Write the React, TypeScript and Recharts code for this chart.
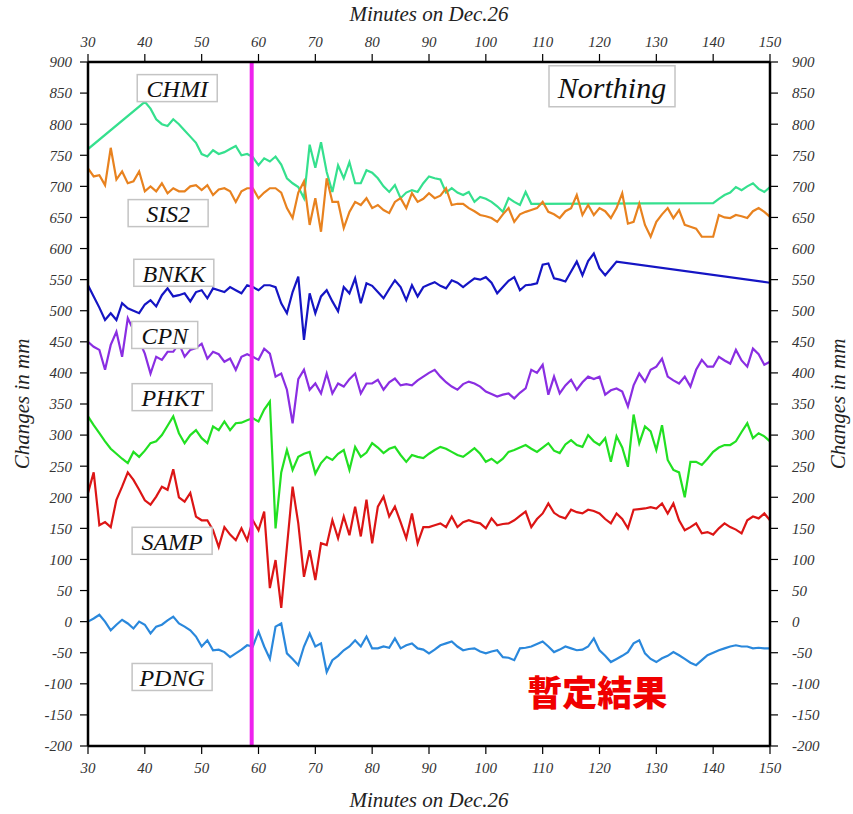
import React from 'react';
import { LineChart, Line, XAxis, YAxis, ReferenceLine, ReferenceDot } from 'recharts';

const minutes: number[] = Array.from({ length: 121 }, (_, i) => 30 + i);

const N = null;

const chmi: (number | null)[] = [
  760, N, N, N, N, N, N, N, N, N,
  836, 825, 808, 800, 797, 808, 800, 790, 780, 770,
  752, 748, 758, 752, 755, 760, 765, 750, 752, 747,
  734, 745, 740, 748, 735, 713, 705, 699, 681, 767,
  730, 771, 723, 691, 734, 713, 739, 705, 705, 726,
  722, 713, 700, 691, 702, 681, 690, 694, 691, 705,
  716, 713, 711, 690, 697, 690, 686, 691, 675, 683,
  680, 675, 668, 659, 681, 675, 670, 691, 672, N,
  N, N, N, N, N, N, N, N, N, N,
  N, N, N, N, N, N, N, N, N, N,
  N, N, N, N, N, N, N, N, N, N,
  673, 680, 686, 690, 699, 694, 700, 705, 696, 691,
  699,
];

const sis2: number[] = [
  729, 716, 718, 702, 762, 711, 724, 705, 708, 724,
  692, 700, 692, 705, 689, 697, 692, 692, 700, 702,
  694, 702, 686, 695, 697, 692, 675, 692, 697, 697,
  681, 690, 697, 697, 690, 665, 649, 690, 708, 638,
  681, 627, 713, 675, 675, 633, 659, 675, 670, 681,
  665, 670, 662, 657, 675, 681, 665, 689, 675, 680,
  689, 681, 685, 697, 670, 672, 672, 665, 660, 654,
  652, 649, 643, 655, 665, 643, 655, 659, 662, 665,
  675, 659, 655, 649, 660, 665, 686, 654, 670, 654,
  665, 660, 649, 665, 689, 640, 643, 672, 638, 619,
  643, 655, 665, 649, 662, 638, 635, 632, 619, 619,
  619, 654, 650, 649, 654, 652, 649, 660, 665, 659,
  651,
];

const bnkk: (number | null)[] = [
  541, 523, 505, 485, 496, 485, 512, 504, 500, 496,
  510, 517, 507, 525, 536, 523, 525, 528, 515, 530,
  533, 520, 536, 533, 530, 538, 533, 528, 541, 538,
  533, 541, 541, 538, 512, 496, 530, 555, 453, 528,
  496, 523, 533, 515, 499, 538, 528, 552, 512, 544,
  540, 530, 520, 535, 549, 538, 517, 541, 523, 538,
  542, 546, 540, 536, 549, 545, 538, 545, 552, 550,
  554, 545, 528, 538, 548, 554, 533, 541, 542, 544,
  574, 576, 552, 550, 547, 563, 579, 557, 580, 592,
  568, 557, 568, 579, N, N, N, N, N, N,
  N, N, N, N, N, N, N, N, N, N,
  N, N, N, N, N, N, N, N, N, N,
  545,
];

const cpn: number[] = [
  450, 442, 437, 405, 445, 466, 426, 488, 469, 452,
  431, 399, 426, 421, 434, 434, 447, 426, 437, 440,
  447, 423, 434, 430, 418, 423, 405, 426, 430, 426,
  421, 439, 431, 394, 399, 373, 319, 390, 405, 373,
  383, 367, 399, 367, 383, 378, 390, 399, 367, 383,
  383, 389, 373, 385, 391, 380, 382, 380, 388, 394,
  400, 405, 394, 385, 378, 373, 382, 386, 383, 378,
  370, 366, 362, 365, 367, 359, 368, 375, 405, 400,
  413, 365, 394, 367, 380, 389, 373, 385, 394, 390,
  394, 365, 372, 375, 370, 346, 380, 399, 386, 405,
  410, 423, 394, 388, 383, 394, 378, 405, 421, 410,
  410, 426, 420, 415, 437, 420, 410, 439, 430, 413,
  418,
];

const phkt: number[] = [
  330, 316, 303, 290, 278, 270, 262, 255, 273, 265,
  275, 287, 290, 300, 315, 330, 303, 287, 300, 308,
  295, 287, 314, 308, 322, 308, 319, 320, 324, 327,
  322, 341, 354, 150, 240, 276, 244, 265, 270, 273,
  238, 255, 265, 260, 270, 276, 244, 281, 265, 272,
  287, 280, 271, 278, 281, 268, 257, 268, 265, 263,
  270, 276, 281, 278, 273, 268, 265, 272, 279, 270,
  257, 262, 255, 262, 273, 276, 280, 284, 278, 273,
  280, 287, 275, 271, 285, 292, 284, 281, 300, 290,
  284, 295, 257, 298, 280, 249, 333, 287, 314, 306,
  276, 316, 260, 244, 240, 200, 257, 257, 252, 262,
  273, 280, 284, 284, 290, 305, 319, 295, 303, 298,
  290,
];

const samp: number[] = [
  207, 240, 155, 160, 152, 196, 217, 240, 228, 212,
  195, 188, 201, 217, 212, 245, 200, 193, 207, 169,
  163, 163, 147, 120, 152, 140, 131, 150, 131, 163,
  147, 177, 54, 99, 22, 120, 217, 158, 72, 115,
  67, 126, 123, 163, 134, 169, 139, 185, 137, 196,
  126, 185, 201, 169, 185, 160, 134, 174, 126, 152,
  152, 155, 158, 152, 169, 152, 160, 163, 160, 158,
  150, 166, 155, 157, 158, 163, 170, 177, 152, 165,
  174, 190, 175, 169, 166, 180, 176, 174, 180, 178,
  174, 165, 158, 174, 165, 150, 180, 181, 182, 184,
  182, 190, 174, 190, 163, 147, 152, 158, 142, 144,
  140, 150, 158, 152, 148, 142, 163, 169, 166, 174,
  163,
];

const pdng: number[] = [
  0, 5, 11, 0, -14, -5, 3, -3, -11, 0,
  -5, -19, -8, -5, 2, 8, -3, -8, -14, -24,
  -40, -30, -46, -45, -49, -57, -51, -45, -38, -40,
  -16, -40, -60, -8, -3, -51, -60, -70, -40, -19,
  -40, -35, -81, -62, -55, -46, -40, -30, -40, -24,
  -43, -43, -40, -42, -27, -43, -38, -35, -43, -45,
  -51, -45, -38, -35, -32, -40, -46, -44, -43, -48,
  -51, -48, -46, -57, -58, -62, -43, -42, -40, -36,
  -32, -40, -49, -45, -40, -43, -46, -45, -40, -27,
  -46, -55, -65, -60, -55, -49, -35, -30, -51, -60,
  -65, -59, -55, -49, -54, -60, -66, -70, -62, -54,
  -50, -46, -43, -40, -38, -40, -40, -43, -42, -43,
  -43,
];

const xTicks: number[] = [30, 40, 50, 60, 70, 80, 90, 100, 110, 120, 130, 140, 150];
const yTicks: number[] = [900, 850, 800, 750, 700, 650, 600, 550, 500, 450, 400, 350, 300, 250, 200, 150, 100, 50, 0, -50, -100, -150, -200];

const stationNames: string[] = ['CHMI', 'SIS2', 'BNKK', 'CPN', 'PHKT', 'SAMP', 'PDNG'];
const stationLabelX: number[] = [45.7, 44.1, 45.1, 43.5, 44.8, 44.8, 44.8];
const stationLabelY: number[] = [858, 657, 561, 461, 361, 130, -89];
const eventMinute = 58.8;

const seriesKeys = ['chmi', 'sis2', 'bnkk', 'cpn', 'phkt', 'samp', 'pdng'];
const seriesColors = ['#35e08e', '#e8821f', '#1515c4', '#8a2ee2', '#22e022', '#dc1515', '#2a88dc'];
const seriesValues = [chmi, sis2, bnkk, cpn, phkt, samp, pdng];

const table = minutes.map((t, i) => {
  const row: Record<string, number | null> = { t };
  seriesKeys.forEach((k, j) => {
    row[k] = seriesValues[j][i];
  });
  return row;
});

const SERIF = '"Liberation Serif", "DejaVu Serif", serif';

function BoxLabel(props: any) {
  const { viewBox, caption, w, h, fs } = props;
  if (!viewBox) return null;
  const cx = viewBox.x + viewBox.width / 2;
  const cy = viewBox.y + viewBox.height / 2;
  return (
    <g>
      <rect x={cx - w / 2} y={cy - h / 2} width={w} height={h} fill="#fff" stroke="#c4c4c4" strokeWidth={1.5} />
      <text x={cx} y={cy + 1} textAnchor="middle" dominantBaseline="central" fontFamily={SERIF} fontStyle="italic" fontSize={fs} fill="#111">
        {caption}
      </text>
    </g>
  );
}

function StampLabel(props: any) {
  const { viewBox } = props;
  if (!viewBox) return null;
  const cx = viewBox.x + viewBox.width / 2;
  const cy = viewBox.y + viewBox.height / 2;
  return (
    <text x={cx} y={cy} textAnchor="middle" dominantBaseline="central" fontFamily='"Noto Sans CJK JP", sans-serif' fontWeight={900} fontSize={35} fill="#f00000">
      暫定結果
    </text>
  );
}

function AxisTitle(props: any) {
  const { viewBox, side } = props;
  if (!viewBox) return null;
  const common = { fontFamily: SERIF, fontStyle: 'italic' as const, fontSize: 21, fill: '#222', textAnchor: 'middle' as const, dominantBaseline: 'central' as const };
  if (side === 'top') {
    return <text x={viewBox.x + viewBox.width / 2} y={viewBox.y - 18} {...common}>Minutes on Dec.26</text>;
  }
  if (side === 'bottom') {
    return <text x={viewBox.x + viewBox.width / 2} y={viewBox.y + 54} {...common}>Minutes on Dec.26</text>;
  }
  const x = side === 'left' ? viewBox.x - 6 : viewBox.x + 68;
  const y = viewBox.y + viewBox.height / 2;
  return (
    <text x={x} y={y} transform={`rotate(-90 ${x} ${y})`} {...common}>
      Changes in mm
    </text>
  );
}

const tickStyle = { fontFamily: SERIF, fontStyle: 'italic', fontSize: 15, fill: '#333' };

export default function App() {
  return (
    <div style={{ position: 'absolute', left: 0, top: 0, width: 853, height: 814, background: '#fff' }}>
      <LineChart width={853} height={814} data={table} margin={{ top: 32, right: 23, bottom: 38, left: 28 }}>
        <XAxis
          xAxisId={0}
          dataKey="t"
          type="number"
          domain={[30, 150]}
          ticks={xTicks}
          orientation="bottom"
          height={30}
          tickSize={8}
          tickMargin={8}
          stroke="#000"
          axisLine={{ stroke: '#000', strokeWidth: 2.5 }}
          tickLine={{ stroke: '#000', strokeWidth: 1.2 }}
          tick={tickStyle}
          allowDataOverflow
          label={<AxisTitle side="bottom" />}
        />
        <XAxis
          xAxisId="top"
          dataKey="t"
          type="number"
          domain={[30, 150]}
          ticks={xTicks}
          orientation="top"
          height={30}
          tickSize={8}
          tickMargin={7}
          stroke="#000"
          axisLine={{ stroke: '#000', strokeWidth: 2.5 }}
          tickLine={{ stroke: '#000', strokeWidth: 1.2 }}
          tick={tickStyle}
          allowDataOverflow
          label={<AxisTitle side="top" />}
        />
        <YAxis
          yAxisId={0}
          type="number"
          domain={[-200, 900]}
          ticks={yTicks}
          orientation="left"
          width={60}
          tickSize={8}
          tickMargin={8}
          interval={0}
          stroke="#000"
          axisLine={{ stroke: '#000', strokeWidth: 2.5 }}
          tickLine={{ stroke: '#000', strokeWidth: 1.2 }}
          tick={tickStyle}
          allowDataOverflow
          label={<AxisTitle side="left" />}
        />
        <YAxis
          yAxisId="right"
          type="number"
          domain={[-200, 900]}
          ticks={yTicks}
          orientation="right"
          width={60}
          tickSize={8}
          tickMargin={14}
          interval={0}
          stroke="#000"
          axisLine={{ stroke: '#000', strokeWidth: 2.5 }}
          tickLine={{ stroke: '#000', strokeWidth: 1.2 }}
          tick={tickStyle}
          allowDataOverflow
          label={<AxisTitle side="right" />}
        />
        {seriesKeys.map((k, j) => (
          <Line
            key={k}
            xAxisId={0}
            yAxisId={0}
            dataKey={k}
            type="linear"
            stroke={seriesColors[j]}
            strokeWidth={2.2}
            dot={false}
            activeDot={false}
            connectNulls
            isAnimationActive={false}
          />
        ))}
        <ReferenceLine xAxisId={0} yAxisId={0} x={eventMinute} stroke="#ee22ee" strokeWidth={4} />
        {stationNames.map((name, i) => (
          <ReferenceDot
            key={name}
            xAxisId={0}
            yAxisId={0}
            x={stationLabelX[i]}
            y={stationLabelY[i]}
            r={1}
            fill="none"
            stroke="none"
            label={<BoxLabel caption={name} w={name.length > 3 ? 80 : 66} h={27} fs={24} />}
          />
        ))}
        <ReferenceDot
          xAxisId={0}
          yAxisId={0}
          x={122.2}
          y={861}
          r={1}
          fill="none"
          stroke="none"
          label={<BoxLabel caption="Northing" w={126} h={41} fs={30} />}
        />
        <ReferenceDot
          xAxisId={0}
          yAxisId={0}
          x={119.6}
          y={-110}
          r={1}
          fill="none"
          stroke="none"
          label={<StampLabel />}
        />
      </LineChart>
    </div>
  );
}
